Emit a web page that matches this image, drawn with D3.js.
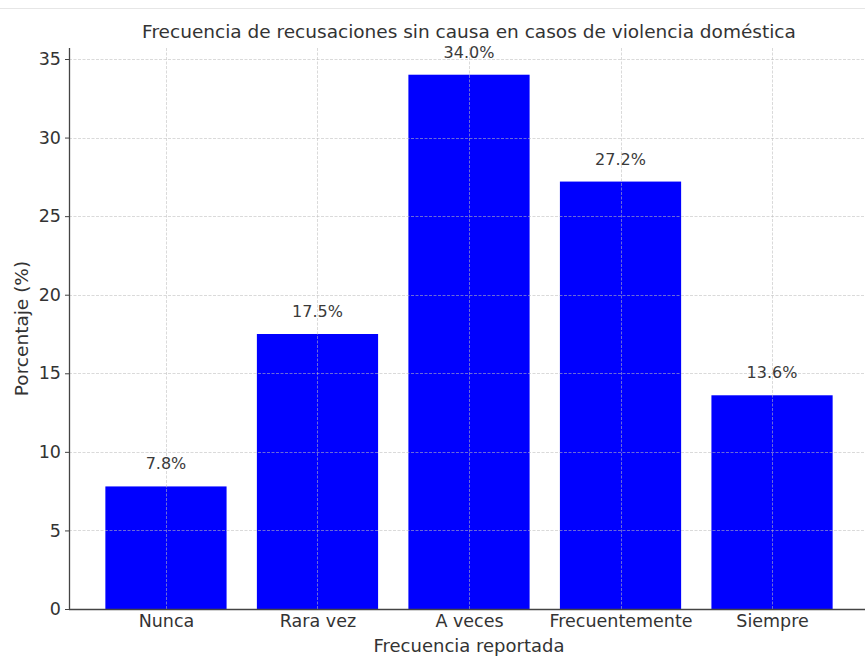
<!DOCTYPE html>
<html>
<head>
<meta charset="utf-8">
<script src="https://cdn.jsdelivr.net/npm/d3@7"></script>
<style>
  body { margin: 0; background: #fff; }
  svg { display: block; font-family: "DejaVu Sans", sans-serif; }
</style>
</head>
<body>
<svg id="chart" width="865" height="660"></svg>
<script>
// chart values
var categories = ["Nunca", "Rara vez", "A veces", "Frecuentemente", "Siempre"]
var values = [7.8, 17.5, 34.0, 27.2, 13.6]
var yTicks = [0, 5, 10, 15, 20, 25, 30, 35]

var title = "Frecuencia de recusaciones sin causa en casos de violencia doméstica",
    xTitle = "Frecuencia reportada",
    yTitle = "Porcentaje (%)"

var svg = d3.select("#chart")

// axes box (right side runs off the picture, as in the original)
var box = {left: 69, right: 869, top: 48, bottom: 609}

// faint frame line at the very top of the image
svg.append("line")
  .attr("x1", 0).attr("x2", 865)
  .attr("y1", 8.5).attr("y2", 8.5)
  .attr("stroke", "#e6e6e6")

var x = d3.scaleLinear()
  .domain([-0.64, categories.length - 1 + 0.64])
  .range([box.left, box.right])

var y = d3.scaleLinear()
  .domain([0, 35.7])
  .range([box.bottom, box.top])

var barW = x(0.4) - x(-0.4)

//------------------------------------------------------------------------------
// bars
//------------------------------------------------------------------------------
svg.append("g").selectAll("rect")
  .data(values)
  .enter().append("rect")
    .attr("x", function(d, i){ return x(i) - barW/2 })
    .attr("y", function(d){ return y(d) })
    .attr("width", barW)
    .attr("height", function(d){ return y(0) - y(d) })
    .attr("fill", "#0000ff")

//------------------------------------------------------------------------------
// grid, drawn over the bars
//------------------------------------------------------------------------------
var grid = svg.append("g")
  .attr("stroke", "#bdbdbd")
  .attr("stroke-opacity", 0.7)
  .attr("stroke-width", 0.8)
  .attr("stroke-dasharray", "3,1.5")

grid.selectAll("line.h")
  .data(yTicks.filter(function(t){ return t > 0 }))
  .enter().append("line")
    .attr("class", "h")
    .attr("x1", box.left).attr("x2", box.right)
    .attr("y1", function(t){ return Math.round(y(t)) + 0.5 })
    .attr("y2", function(t){ return Math.round(y(t)) + 0.5 })

grid.selectAll("line.v")
  .data(categories)
  .enter().append("line")
    .attr("class", "v")
    .attr("x1", function(d, i){ return Math.round(x(i)) + 0.5 })
    .attr("x2", function(d, i){ return Math.round(x(i)) + 0.5 })
    .attr("y1", box.top).attr("y2", box.bottom)

//------------------------------------------------------------------------------
// axes
//------------------------------------------------------------------------------
var yAxis = svg.append("g")
  .attr("transform", "translate(" + box.left + ",0)")
  .call(d3.axisLeft(y).tickValues(yTicks).tickSize(4).tickPadding(4).tickFormat(d3.format("d")))

yAxis.select(".domain").remove()
yAxis.selectAll("line").attr("stroke", "#444")
yAxis.selectAll("text")
  .attr("font-size", 17.5)
  .attr("fill", "#333")
  .attr("font-family", "DejaVu Sans")

var xAxis = svg.append("g")
  .attr("transform", "translate(0," + box.bottom + ")")
  .call(d3.axisBottom(x).tickValues(d3.range(categories.length)).tickSize(0).tickPadding(6)
    .tickFormat(function(i){ return categories[i] }))

xAxis.select(".domain").remove()
xAxis.selectAll("text")
  .attr("font-size", 17.5)
  .attr("fill", "#333")
  .attr("font-family", "DejaVu Sans")

// spines: left and bottom
svg.append("line")
  .attr("x1", box.left + 0.5).attr("x2", box.left + 0.5)
  .attr("y1", box.top).attr("y2", box.bottom)
  .attr("stroke", "#444").attr("stroke-width", 1.3)

svg.append("line")
  .attr("x1", box.left).attr("x2", box.right)
  .attr("y1", box.bottom + 0.5).attr("y2", box.bottom + 0.5)
  .attr("stroke", "#444").attr("stroke-width", 1.3)

//------------------------------------------------------------------------------
// value labels
//------------------------------------------------------------------------------
svg.append("g").selectAll("text")
  .data(values)
  .enter().append("text")
    .attr("x", function(d, i){ return x(i) })
    .attr("y", function(d){ return y(d) - 17 })
    .attr("text-anchor", "middle")
    .attr("font-size", 16)
    .attr("fill", "#3a3a3a")
    .text(function(d){ return d.toFixed(1) + "%" })

//------------------------------------------------------------------------------
// titles
//------------------------------------------------------------------------------
svg.append("text")
  .attr("x", (box.left + box.right)/2)
  .attr("y", 38)
  .attr("text-anchor", "middle")
  .attr("font-size", 18.5)
  .attr("fill", "#333")
  .text(title)

svg.append("text")
  .attr("x", (box.left + box.right)/2)
  .attr("y", 652)
  .attr("text-anchor", "middle")
  .attr("font-size", 18)
  .attr("fill", "#333")
  .text(xTitle)

svg.append("text")
  .attr("transform", "translate(28," + ((box.top + box.bottom)/2) + ") rotate(-90)")
  .attr("text-anchor", "middle")
  .attr("font-size", 18.5)
  .attr("fill", "#333")
  .text(yTitle)
</script>
</body>
</html>
